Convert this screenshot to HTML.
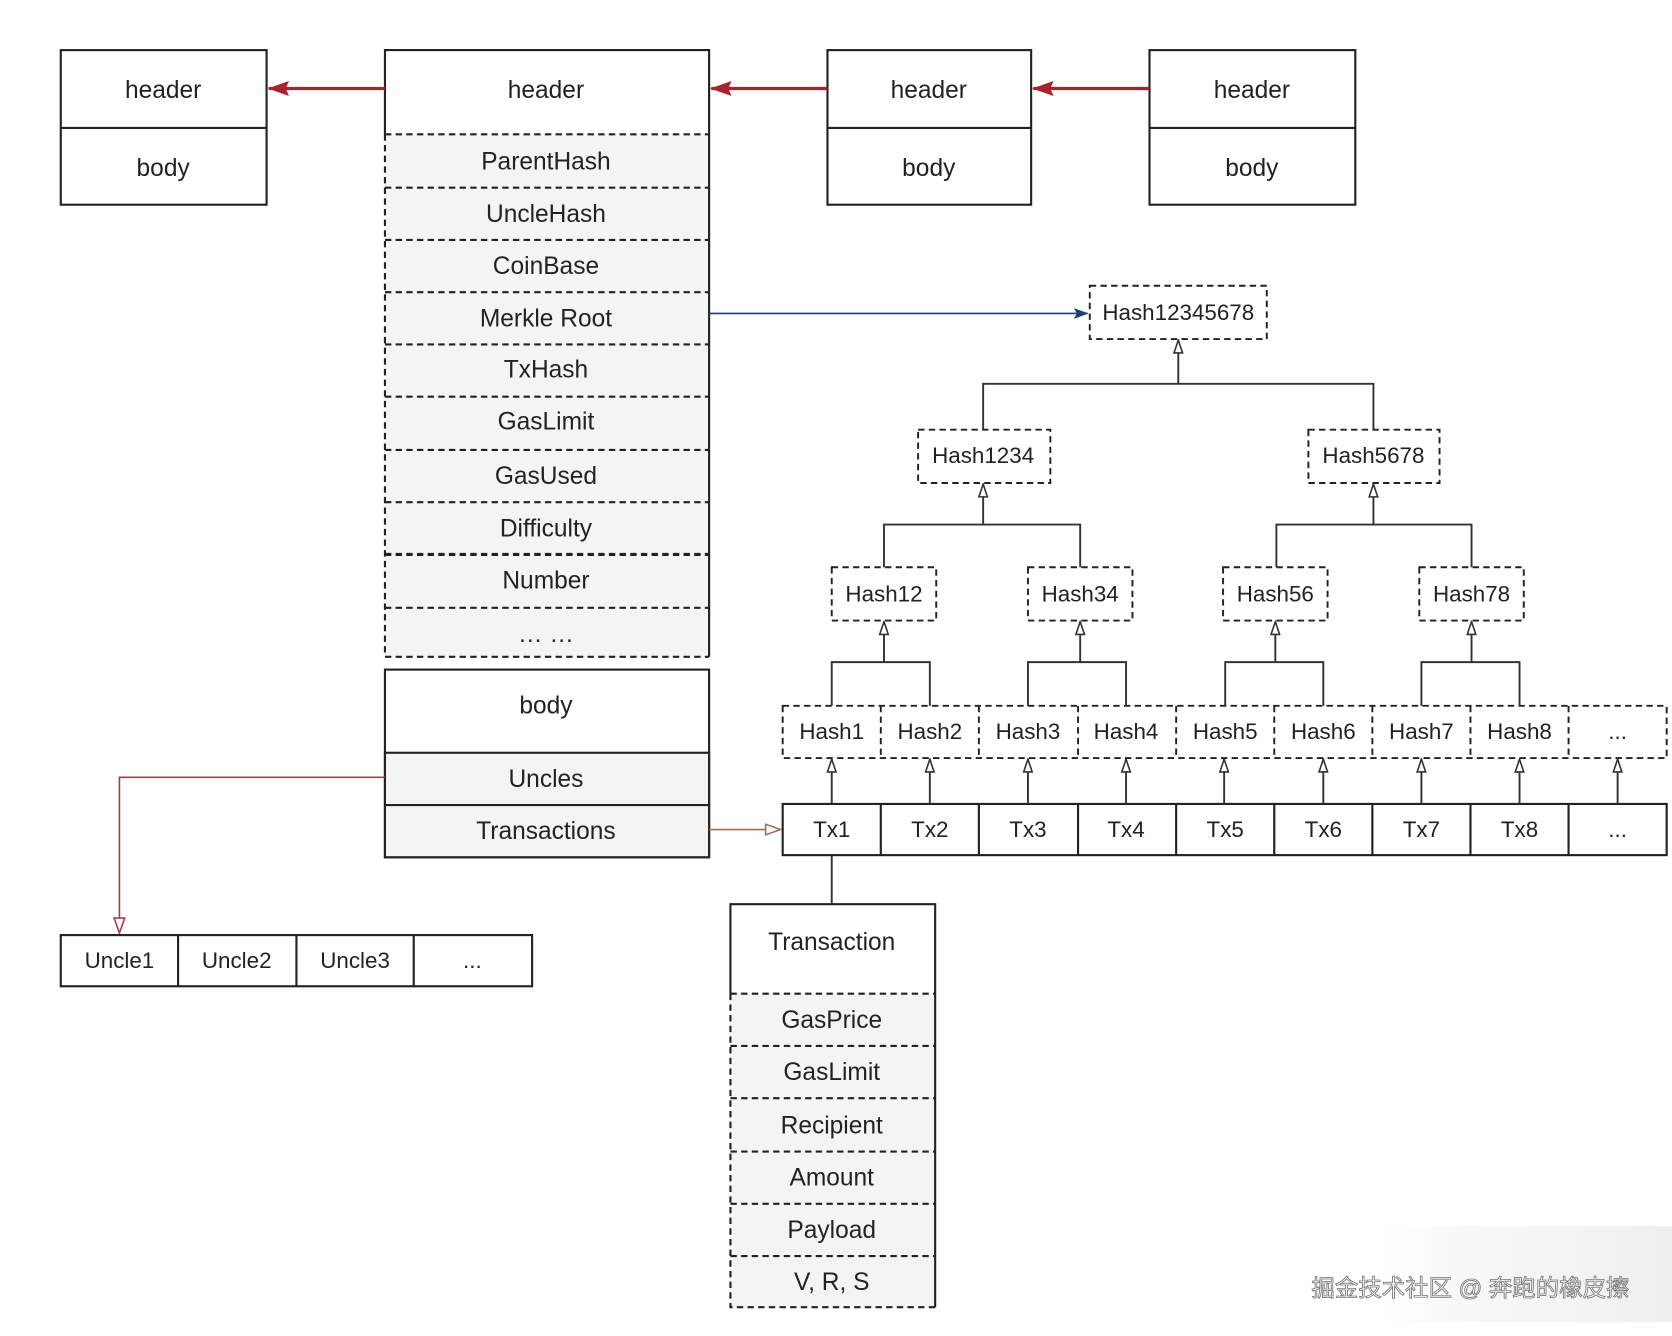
<!DOCTYPE html>
<html><head><meta charset="utf-8">
<style>
html,body{margin:0;padding:0;background:#fff;}
svg{display:block;}
text{font-family:"Liberation Sans","Noto Sans CJK SC",sans-serif;fill:#222;text-anchor:middle;dominant-baseline:central;}
</style></head><body>
<svg width="1672" height="1336" viewBox="0 0 1568 1253" preserveAspectRatio="none" xmlns="http://www.w3.org/2000/svg">
<defs>
<marker id="red" markerWidth="20" markerHeight="16" refX="19" refY="8" orient="auto" markerUnits="userSpaceOnUse"><path d="M0,1 L20,8 L0,15 L3,8 Z" fill="#a8232c"/></marker>
<marker id="navy" markerWidth="14" markerHeight="10" refX="13" refY="5" orient="auto" markerUnits="userSpaceOnUse"><path d="M0,0 L14,5 L0,10 L3,5 Z" fill="#1f3f6e"/></marker>
<marker id="open" markerWidth="10" markerHeight="14" refX="5" refY="1" orient="0" markerUnits="userSpaceOnUse"><path d="M1,13 L5,1 L9,13 Z" fill="#fff" stroke="#333" stroke-width="1.5"/></marker>
<marker id="brown" markerWidth="16" markerHeight="12" refX="15" refY="6" orient="auto" markerUnits="userSpaceOnUse"><path d="M1,1 L15,6 L1,11 Z" fill="#fff" stroke="#a07058" stroke-width="1.5"/></marker>
<marker id="redopen" markerWidth="12" markerHeight="16" refX="6" refY="15" orient="0" markerUnits="userSpaceOnUse"><path d="M1,1 L6,15 L11,1 Z" fill="#fff" stroke="#a0404c" stroke-width="1.5"/></marker>
<linearGradient id="wm" x1="0" y1="0" x2="1" y2="0"><stop offset="0" stop-color="#fff"/><stop offset="0.3" stop-color="#f7f7f7"/><stop offset="1" stop-color="#efefef"/></linearGradient>
</defs>
<g stroke="#222" stroke-width="2" fill="#fff" font-size="22">
<rect x="57" y="47" width="193" height="145"/><line x1="57" y1="120" x2="250" y2="120"/>
<rect x="776" y="47" width="191" height="145"/><line x1="776" y1="120" x2="967" y2="120"/>
<rect x="1078" y="47" width="193" height="145"/><line x1="1078" y1="120" x2="1271" y2="120"/>
<rect x="361" y="126" width="304" height="490" fill="#f3f5f5" stroke="none"/>
<path d="M361,126 V47 H665 V616" fill="none"/>
<path d="M361,126 V616 H665" fill="none" stroke-dasharray="6,4"/>
<g stroke-dasharray="6,4">
<line x1="361" y1="126" x2="665" y2="126"/><line x1="361" y1="176" x2="665" y2="176"/>
<line x1="361" y1="225" x2="665" y2="225"/><line x1="361" y1="274" x2="665" y2="274"/>
<line x1="361" y1="323" x2="665" y2="323"/><line x1="361" y1="372" x2="665" y2="372"/>
<line x1="361" y1="422" x2="665" y2="422"/><line x1="361" y1="471" x2="665" y2="471"/>
<line x1="361" y1="520" x2="665" y2="520" stroke-width="3"/><line x1="361" y1="570" x2="665" y2="570"/>
</g>
<rect x="361" y="628" width="304" height="176"/>
<rect x="361" y="706" width="304" height="98" fill="#f3f5f5"/>
<line x1="361" y1="755" x2="665" y2="755"/>
<rect x="57" y="877" width="442" height="48"/>
<line x1="167" y1="877" x2="167" y2="925"/><line x1="278" y1="877" x2="278" y2="925"/><line x1="388" y1="877" x2="388" y2="925"/>
<rect x="685" y="932" width="192" height="294" fill="#f3f5f5" stroke="none"/>
<path d="M685,932 V848 H877 V1226" fill="none"/>
<path d="M685,932 V1226 H877" fill="none" stroke-dasharray="6,4"/>
<g stroke-dasharray="6,4">
<line x1="685" y1="932" x2="877" y2="932"/><line x1="685" y1="981" x2="877" y2="981"/>
<line x1="685" y1="1030" x2="877" y2="1030"/><line x1="685" y1="1080" x2="877" y2="1080"/>
<line x1="685" y1="1129" x2="877" y2="1129"/><line x1="685" y1="1178" x2="877" y2="1178"/>
</g>
<rect x="734" y="754" width="829" height="48"/>
<line x1="826" y1="754" x2="826" y2="802"/><line x1="918" y1="754" x2="918" y2="802"/><line x1="1011" y1="754" x2="1011" y2="802"/><line x1="1103" y1="754" x2="1103" y2="802"/><line x1="1195" y1="754" x2="1195" y2="802"/><line x1="1287" y1="754" x2="1287" y2="802"/><line x1="1379" y1="754" x2="1379" y2="802"/><line x1="1471" y1="754" x2="1471" y2="802"/>
<g stroke-dasharray="6,4" stroke-width="1.8">
<rect x="734" y="662" width="829" height="49"/>
<line x1="826" y1="662" x2="826" y2="711"/><line x1="918" y1="662" x2="918" y2="711"/><line x1="1011" y1="662" x2="1011" y2="711"/><line x1="1103" y1="662" x2="1103" y2="711"/><line x1="1195" y1="662" x2="1195" y2="711"/><line x1="1287" y1="662" x2="1287" y2="711"/><line x1="1379" y1="662" x2="1379" y2="711"/><line x1="1471" y1="662" x2="1471" y2="711"/>
<rect x="1022" y="268" width="166" height="50"/>
<rect x="861" y="403" width="124" height="50"/><rect x="1227" y="403" width="123" height="50"/>
<rect x="780" y="532" width="98" height="50"/><rect x="964" y="532" width="98" height="50"/>
<rect x="1147" y="532" width="98" height="50"/><rect x="1331" y="532" width="98" height="50"/>
</g>
<g fill="none" stroke="#333" stroke-width="1.8">
<path d="M922,403 V360 H1288 V403"/><line x1="1105" y1="360" x2="1105" y2="319" marker-end="url(#open)"/>
<path d="M829,532 V492 H1013 V532"/><line x1="922" y1="492" x2="922" y2="454" marker-end="url(#open)"/>
<path d="M1197,532 V492 H1380 V532"/><line x1="1288" y1="492" x2="1288" y2="454" marker-end="url(#open)"/>
<path d="M780,662 V621 H872 V662"/><line x1="829" y1="621" x2="829" y2="583" marker-end="url(#open)"/>
<path d="M964,662 V621 H1056 V662"/><line x1="1013" y1="621" x2="1013" y2="583" marker-end="url(#open)"/>
<path d="M1149,662 V621 H1241 V662"/><line x1="1196" y1="621" x2="1196" y2="583" marker-end="url(#open)"/>
<path d="M1333,662 V621 H1425 V662"/><line x1="1380" y1="621" x2="1380" y2="583" marker-end="url(#open)"/>
<line x1="780" y1="754" x2="780" y2="712" marker-end="url(#open)"/>
<line x1="872" y1="754" x2="872" y2="712" marker-end="url(#open)"/>
<line x1="964" y1="754" x2="964" y2="712" marker-end="url(#open)"/>
<line x1="1056" y1="754" x2="1056" y2="712" marker-end="url(#open)"/>
<line x1="1148" y1="754" x2="1148" y2="712" marker-end="url(#open)"/>
<line x1="1241" y1="754" x2="1241" y2="712" marker-end="url(#open)"/>
<line x1="1333" y1="754" x2="1333" y2="712" marker-end="url(#open)"/>
<line x1="1425" y1="754" x2="1425" y2="712" marker-end="url(#open)"/>
<line x1="1517" y1="754" x2="1517" y2="712" marker-end="url(#open)"/>
<line x1="780" y1="802" x2="780" y2="848"/>
</g>
<line x1="361" y1="83" x2="252" y2="83" stroke="#a8232c" stroke-width="3" marker-end="url(#red)"/>
<line x1="776" y1="83" x2="667" y2="83" stroke="#a8232c" stroke-width="3" marker-end="url(#red)"/>
<line x1="1078" y1="83" x2="969" y2="83" stroke="#a8232c" stroke-width="3" marker-end="url(#red)"/>
<line x1="665" y1="294" x2="1020" y2="294" stroke="#1f3f6e" stroke-width="1.5" marker-end="url(#navy)"/>
<line x1="665" y1="778" x2="732" y2="778" stroke="#a07058" stroke-width="1.5" marker-end="url(#brown)"/>
<path d="M361,729 H112 V875" fill="none" stroke="#a0404c" stroke-width="1.5" marker-end="url(#redopen)"/>
</g>
<g font-size="23">
<text x="153" y="85">header</text><text x="153" y="158">body</text>
<text x="512" y="85">header</text>
<text x="871" y="85">header</text><text x="871" y="158">body</text>
<text x="1174" y="85">header</text><text x="1174" y="158">body</text>
<text x="512" y="152">ParentHash</text><text x="512" y="201">UncleHash</text><text x="512" y="250">CoinBase</text>
<text x="512" y="299">Merkle Root</text><text x="512" y="347">TxHash</text><text x="512" y="396">GasLimit</text>
<text x="512" y="447">GasUsed</text><text x="512" y="496">Difficulty</text><text x="512" y="545">Number</text>
<text x="512" y="595">… …</text>
<text x="512" y="662">body</text><text x="512" y="731">Uncles</text><text x="512" y="780">Transactions</text>
<text x="780" y="884">Transaction</text>
<text x="780" y="957">GasPrice</text><text x="780" y="1006">GasLimit</text><text x="780" y="1056">Recipient</text>
<text x="780" y="1105">Amount</text><text x="780" y="1154">Payload</text><text x="780" y="1203">V, R, S</text>
</g>
<g font-size="21">
<text x="1105" y="293">Hash12345678</text>
<text x="922" y="427">Hash1234</text><text x="1288" y="427">Hash5678</text>
<text x="829" y="557">Hash12</text><text x="1013" y="557">Hash34</text><text x="1196" y="557">Hash56</text><text x="1380" y="557">Hash78</text>
<text x="780" y="686">Hash1</text><text x="872" y="686">Hash2</text><text x="964" y="686">Hash3</text><text x="1056" y="686">Hash4</text><text x="1149" y="686">Hash5</text><text x="1241" y="686">Hash6</text><text x="1333" y="686">Hash7</text><text x="1425" y="686">Hash8</text><text x="1517" y="686">...</text>
<text x="780" y="778">Tx1</text><text x="872" y="778">Tx2</text><text x="964" y="778">Tx3</text><text x="1056" y="778">Tx4</text><text x="1149" y="778">Tx5</text><text x="1241" y="778">Tx6</text><text x="1333" y="778">Tx7</text><text x="1425" y="778">Tx8</text><text x="1517" y="778">...</text>
<text x="112" y="901">Uncle1</text><text x="222" y="901">Uncle2</text><text x="333" y="901">Uncle3</text><text x="443" y="901">...</text>
</g>
<rect x="1300" y="1150" width="268" height="90" fill="url(#wm)"/>
<text x="1379" y="1208" font-size="22" style="fill:#fff;stroke:#777;stroke-width:0.8px;">掘金技术社区 @ 奔跑的橡皮擦</text>
</svg>
</body></html>
